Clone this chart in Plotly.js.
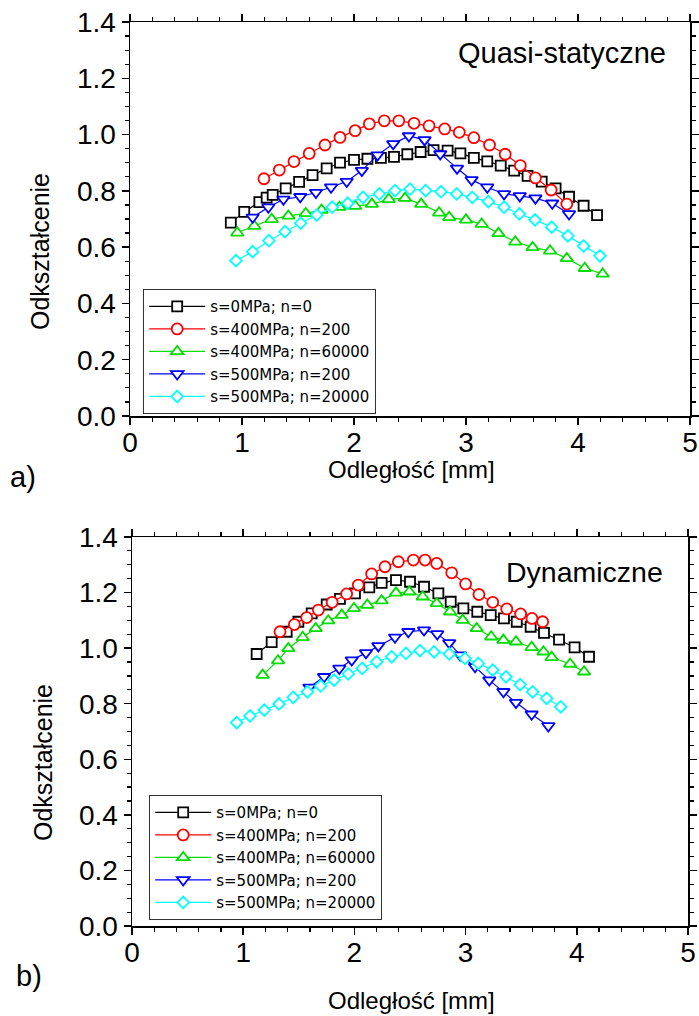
<!DOCTYPE html>
<html><head><meta charset="utf-8">
<script src="https://cdn.plot.ly/plotly-3.0.1.min.js"></script>
<style>html,body{margin:0;padding:0;background:#fff}</style>
</head><body><div id="chart" style="width:699px;height:1016px"></div>
<script>
// ---- Data: a) Quasi-statyczne ----
const seriesNames = ["s=0MPa; n=0","s=400MPa; n=200","s=400MPa; n=60000","s=500MPa; n=200","s=500MPa; n=20000"];
const qs_x0 = [0.90,1.02,1.155,1.22,1.274,1.39,1.51,1.63,1.756,1.875,2.00,2.12,2.24,2.357,2.476,2.595,2.71,2.836,2.95,3.07,3.19,3.31,3.43,3.55,3.676,3.80,3.92,4.05,4.17];
const qs_y0 = [0.687,0.725,0.760,0.776,0.786,0.809,0.832,0.856,0.880,0.900,0.910,0.914,0.917,0.921,0.930,0.938,0.945,0.943,0.933,0.917,0.905,0.890,0.872,0.853,0.833,0.809,0.779,0.747,0.714];
const qs_x1 = [1.196,1.333,1.464,1.60,1.741,1.875,2.01,2.137,2.27,2.40,2.536,2.67,2.81,2.94,3.07,3.21,3.35,3.485,3.62,3.76,3.90];
const qs_y1 = [0.843,0.874,0.904,0.933,0.963,0.990,1.014,1.038,1.049,1.049,1.040,1.031,1.020,1.008,0.989,0.963,0.930,0.890,0.846,0.803,0.753];
const qs_x2 = [0.958,1.11,1.265,1.414,1.569,1.71,1.87,2.01,2.16,2.31,2.455,2.60,2.76,2.85,3.00,3.14,3.29,3.44,3.595,3.75,3.90,4.06,4.22];
const qs_y2 = [0.651,0.675,0.699,0.711,0.720,0.732,0.742,0.746,0.753,0.770,0.774,0.753,0.722,0.706,0.697,0.682,0.649,0.619,0.599,0.587,0.560,0.525,0.505];
const qs_x3 = [1.095,1.235,1.37,1.52,1.66,1.795,1.935,2.07,2.21,2.35,2.49,2.63,2.77,2.92,3.05,3.19,3.34,3.48,3.62,3.77,3.92];
const qs_y3 = [0.706,0.742,0.770,0.779,0.794,0.813,0.833,0.872,0.927,0.967,0.995,0.981,0.931,0.880,0.839,0.813,0.789,0.782,0.774,0.756,0.718];
const qs_x4 = [0.946,1.095,1.24,1.384,1.524,1.667,1.806,1.944,2.08,2.226,2.366,2.50,2.64,2.777,2.917,3.056,3.20,3.34,3.476,3.616,3.765,3.91,4.05,4.196];
const qs_y4 = [0.552,0.584,0.623,0.655,0.685,0.714,0.742,0.756,0.777,0.789,0.801,0.806,0.801,0.797,0.789,0.777,0.762,0.742,0.718,0.697,0.671,0.640,0.604,0.569];

// ---- Data: b) Dynamiczne ----
const dy_x0 = [1.121,1.256,1.391,1.496,1.616,1.751,1.87,2.005,2.134,2.245,2.374,2.50,2.626,2.755,2.866,2.98,3.105,3.226,3.345,3.46,3.585,3.705,3.84,3.98,4.11];
const dy_y0 = [0.979,1.022,1.059,1.095,1.125,1.157,1.177,1.197,1.219,1.235,1.245,1.239,1.221,1.197,1.167,1.143,1.131,1.119,1.107,1.095,1.077,1.055,1.031,1.003,0.969];
const dy_x1 = [1.331,1.46,1.571,1.676,1.80,1.93,2.035,2.155,2.275,2.395,2.53,2.635,2.74,2.875,3.00,3.12,3.244,3.37,3.495,3.597,3.693];
const dy_y1 = [1.059,1.085,1.110,1.137,1.165,1.195,1.227,1.267,1.293,1.311,1.317,1.317,1.305,1.271,1.231,1.193,1.165,1.141,1.123,1.107,1.095];
const dy_x2 = [1.175,1.313,1.406,1.535,1.652,1.765,1.886,1.996,2.116,2.245,2.374,2.494,2.614,2.74,2.86,2.974,3.10,3.23,3.34,3.453,3.594,3.70,3.774,3.94,4.065];
const dy_y2 = [0.903,0.955,0.999,1.039,1.071,1.099,1.119,1.143,1.155,1.171,1.199,1.203,1.185,1.161,1.131,1.101,1.071,1.041,1.029,1.023,1.003,0.987,0.967,0.943,0.915];
const dy_x3 = [1.595,1.727,1.864,1.976,2.104,2.215,2.365,2.485,2.626,2.745,2.853,2.95,3.085,3.213,3.34,3.453,3.594,3.744];
const dy_y3 = [0.859,0.897,0.927,0.957,0.983,1.008,1.039,1.059,1.065,1.051,1.019,0.975,0.933,0.885,0.843,0.804,0.762,0.720];
const dy_x4 = [0.941,1.061,1.19,1.322,1.45,1.577,1.697,1.817,1.945,2.071,2.20,2.335,2.464,2.59,2.716,2.853,2.995,3.114,3.244,3.363,3.49,3.603,3.729,3.855];
const dy_y4 = [0.732,0.756,0.777,0.799,0.823,0.843,0.864,0.885,0.907,0.927,0.951,0.969,0.981,0.991,0.987,0.979,0.963,0.945,0.921,0.897,0.869,0.843,0.819,0.789];

const colors = ["#000000","#ff0000","#00dd00","#0000ff","#00ffff"];
const symbols = ["square","circle","triangle-up","triangle-down","diamond"];
const sizes = [10,11,11,11,9];

const W = 699, H = 1016;
const px = v => v / W, py = v => 1 - v / H;

const qsX = [qs_x0,qs_x1,qs_x2,qs_x3,qs_x4], qsY = [qs_y0,qs_y1,qs_y2,qs_y3,qs_y4];
const dyX = [dy_x0,dy_x1,dy_x2,dy_x3,dy_x4], dyY = [dy_y0,dy_y1,dy_y2,dy_y3,dy_y4];

const traces = [];
function mk(i, xs, ys, xa, ya, leg) {
  return {
    type: "scatter", mode: "lines+markers", x: xs, y: ys, xaxis: xa, yaxis: ya,
    name: seriesNames[i], legend: leg,
    line: {color: colors[i], width: 1.2},
    marker: {symbol: symbols[i], size: sizes[i], color: "#ffffff", line: {color: colors[i], width: 1.8}},
    cliponaxis: false
  };
}
for (let i = 0; i < 5; i++) traces.push(mk(i, qsX[i], qsY[i], "x", "y", "legend"));
for (let i = 0; i < 5; i++) traces.push(mk(i, dyX[i], dyY[i], "x2", "y2", "legend2"));

const tickFont = {family: "Liberation Sans, Arial, sans-serif", size: 28, color: "#000"};
function xax(dom, anchor) {
  return {domain: dom, anchor: anchor, range: [0, 5], dtick: 1, tick0: 0,
    ticks: "outside", ticklen: 7, tickwidth: 1.5, tickcolor: "#000", ticklabelstandoff: -6,
    minor: {dtick: 0.2, ticks: "outside", ticklen: 4, tickwidth: 1.2, tickcolor: "#000"},
    showline: true, linewidth: 1.5, linecolor: "#000", mirror: "ticks",
    showgrid: false, zeroline: false, tickfont: tickFont, fixedrange: true};
}
function yax(dom, anchor) {
  return {domain: dom, anchor: anchor, range: [0, 1.4], dtick: 0.2, tick0: 0, tickformat: ".1f",
    ticks: "outside", ticklen: 7, tickwidth: 1.5, tickcolor: "#000",
    minor: {dtick: 0.05, ticks: "outside", ticklen: 4, tickwidth: 1.2, tickcolor: "#000"},
    showline: true, linewidth: 1.5, linecolor: "#000", mirror: "ticks",
    showgrid: false, zeroline: false, tickfont: tickFont, fixedrange: true};
}

const txtFont = s => ({family: "Liberation Sans, Arial, sans-serif", size: s, color: "#000"});
const legFont = {family: "DejaVu Sans, Liberation Sans, sans-serif", size: 15, color: "#000"};

const layout = {
  width: W, height: H, margin: {l: 0, r: 0, t: 0, b: 0},
  paper_bgcolor: "#fff", plot_bgcolor: "#fff", showlegend: true,
  xaxis: xax([px(130), px(690)], "y"),
  yaxis: yax([py(416), py(22)], "x"),
  xaxis2: xax([px(132), px(688)], "y2"),
  yaxis2: yax([py(926), py(537)], "x2"),
  legend: {x: px(143), y: py(289), xanchor: "left", yanchor: "top", bgcolor: "#fff",
    bordercolor: "#333", borderwidth: 1.2, font: legFont, itemsizing: "trace", itemwidth: 56, tracegroupgap: 0},
  legend2: {x: px(149), y: py(795), xanchor: "left", yanchor: "top", bgcolor: "#fff",
    bordercolor: "#333", borderwidth: 1.2, font: legFont, itemsizing: "trace", itemwidth: 56, tracegroupgap: 0},
  annotations: [
    {text: "Quasi-statyczne", x: px(668), y: py(53), xref: "paper", yref: "paper", xanchor: "right", yanchor: "middle", showarrow: false, font: txtFont(29)},
    {text: "Dynamiczne", x: px(665), y: py(572), xref: "paper", yref: "paper", xanchor: "right", yanchor: "middle", showarrow: false, font: txtFont(28.5)},
    {text: "Odległość [mm]", x: px(411), y: py(469), xref: "paper", yref: "paper", xanchor: "center", yanchor: "middle", showarrow: false, font: txtFont(24)},
    {text: "Odległość [mm]", x: px(411), y: py(1000), xref: "paper", yref: "paper", xanchor: "center", yanchor: "middle", showarrow: false, font: txtFont(24)},
    {text: "Odkształcenie", x: px(40), y: py(252), xref: "paper", yref: "paper", xanchor: "center", yanchor: "middle", textangle: -90, showarrow: false, font: txtFont(25)},
    {text: "Odkształcenie", x: px(43), y: py(763), xref: "paper", yref: "paper", xanchor: "center", yanchor: "middle", textangle: -90, showarrow: false, font: txtFont(25)},
    {text: "a)", x: px(23), y: py(477), xref: "paper", yref: "paper", xanchor: "center", yanchor: "middle", showarrow: false, font: txtFont(29)},
    {text: "b)", x: px(29), y: py(976), xref: "paper", yref: "paper", xanchor: "center", yanchor: "middle", showarrow: false, font: txtFont(29)}
  ]
};

Plotly.newPlot("chart", traces, layout, {staticPlot: true, displayModeBar: false});
</script></body></html>
